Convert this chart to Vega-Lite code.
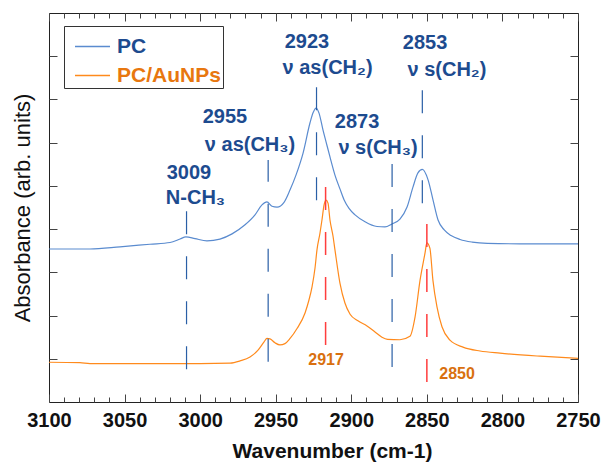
{
  "$schema": "https://vega.github.io/schema/vega-lite/v6.json",
  "width": 529,
  "height": 389,
  "autosize": "none",
  "padding": {"left": 49, "top": 13, "right": 28, "bottom": 61},
  "config": {
    "font": "Liberation Sans",
    "view": {"stroke": "#222", "strokeWidth": 1},
    "axis": {"domain": false, "grid": false, "tickColor": "#444", "tickWidth": 1, "labelColor": "#111", "titleColor": "#111"}
  },
  "datasets": {
    "spectra": [
      {"wn": 3100, "a": 3.54, "s": "PC"},
      {"wn": 3072.9, "a": 3.54, "s": "PC"},
      {"wn": 3053.0, "a": 3.59, "s": "PC"},
      {"wn": 3033.2, "a": 3.65, "s": "PC"},
      {"wn": 3019.9, "a": 3.69, "s": "PC"},
      {"wn": 3013.3, "a": 3.77, "s": "PC"},
      {"wn": 3009.4, "a": 3.82, "s": "PC"},
      {"wn": 3003.4, "a": 3.78, "s": "PC"},
      {"wn": 2995.5, "a": 3.73, "s": "PC"},
      {"wn": 2986.9, "a": 3.77, "s": "PC"},
      {"wn": 2978.9, "a": 3.89, "s": "PC"},
      {"wn": 2970.3, "a": 4.10, "s": "PC"},
      {"wn": 2963.7, "a": 4.33, "s": "PC"},
      {"wn": 2959.1, "a": 4.56, "s": "PC"},
      {"wn": 2955.8, "a": 4.63, "s": "PC"},
      {"wn": 2952.5, "a": 4.53, "s": "PC"},
      {"wn": 2949.1, "a": 4.51, "s": "PC"},
      {"wn": 2944.5, "a": 4.62, "s": "PC"},
      {"wn": 2940.5, "a": 4.91, "s": "PC"},
      {"wn": 2936.6, "a": 5.25, "s": "PC"},
      {"wn": 2931.9, "a": 5.76, "s": "PC"},
      {"wn": 2927.3, "a": 6.46, "s": "PC"},
      {"wn": 2925.3, "a": 6.69, "s": "PC"},
      {"wn": 2923.3, "a": 6.80, "s": "PC"},
      {"wn": 2921.4, "a": 6.69, "s": "PC"},
      {"wn": 2918.7, "a": 6.29, "s": "PC"},
      {"wn": 2916.7, "a": 6.02, "s": "PC"},
      {"wn": 2914.1, "a": 5.67, "s": "PC"},
      {"wn": 2910.8, "a": 5.25, "s": "PC"},
      {"wn": 2907.5, "a": 4.93, "s": "PC"},
      {"wn": 2904.8, "a": 4.68, "s": "PC"},
      {"wn": 2901.5, "a": 4.48, "s": "PC"},
      {"wn": 2897.5, "a": 4.33, "s": "PC"},
      {"wn": 2890.9, "a": 4.17, "s": "PC"},
      {"wn": 2883.0, "a": 4.06, "s": "PC"},
      {"wn": 2877.7, "a": 4.05, "s": "PC"},
      {"wn": 2873.1, "a": 4.12, "s": "PC"},
      {"wn": 2867.8, "a": 4.23, "s": "PC"},
      {"wn": 2863.1, "a": 4.51, "s": "PC"},
      {"wn": 2859.2, "a": 4.97, "s": "PC"},
      {"wn": 2855.9, "a": 5.30, "s": "PC"},
      {"wn": 2853.0, "a": 5.38, "s": "PC"},
      {"wn": 2849.2, "a": 5.14, "s": "PC"},
      {"wn": 2845.9, "a": 4.67, "s": "PC"},
      {"wn": 2842.6, "a": 4.21, "s": "PC"},
      {"wn": 2838.5, "a": 3.98, "s": "PC"},
      {"wn": 2834.0, "a": 3.85, "s": "PC"},
      {"wn": 2828.0, "a": 3.76, "s": "PC"},
      {"wn": 2820.0, "a": 3.70, "s": "PC"},
      {"wn": 2810.0, "a": 3.67, "s": "PC"},
      {"wn": 2788.4, "a": 3.66, "s": "PC"},
      {"wn": 2750, "a": 3.66, "s": "PC"},
      {"wn": 3100, "a": 0.92, "s": "PC/AuNPs"},
      {"wn": 3079.5, "a": 0.91, "s": "PC/AuNPs"},
      {"wn": 3072.9, "a": 0.89, "s": "PC/AuNPs"},
      {"wn": 3000.1, "a": 0.89, "s": "PC/AuNPs"},
      {"wn": 2980.2, "a": 0.90, "s": "PC/AuNPs"},
      {"wn": 2973.6, "a": 0.95, "s": "PC/AuNPs"},
      {"wn": 2967.0, "a": 1.04, "s": "PC/AuNPs"},
      {"wn": 2961.7, "a": 1.20, "s": "PC/AuNPs"},
      {"wn": 2957.7, "a": 1.39, "s": "PC/AuNPs"},
      {"wn": 2955.8, "a": 1.47, "s": "PC/AuNPs"},
      {"wn": 2953.8, "a": 1.46, "s": "PC/AuNPs"},
      {"wn": 2950.5, "a": 1.37, "s": "PC/AuNPs"},
      {"wn": 2947.2, "a": 1.32, "s": "PC/AuNPs"},
      {"wn": 2943.9, "a": 1.35, "s": "PC/AuNPs"},
      {"wn": 2940.5, "a": 1.47, "s": "PC/AuNPs"},
      {"wn": 2935.9, "a": 1.70, "s": "PC/AuNPs"},
      {"wn": 2930.6, "a": 2.06, "s": "PC/AuNPs"},
      {"wn": 2928.0, "a": 2.36, "s": "PC/AuNPs"},
      {"wn": 2926.0, "a": 2.66, "s": "PC/AuNPs"},
      {"wn": 2924.0, "a": 3.10, "s": "PC/AuNPs"},
      {"wn": 2922.7, "a": 3.52, "s": "PC/AuNPs"},
      {"wn": 2920.7, "a": 3.91, "s": "PC/AuNPs"},
      {"wn": 2919.4, "a": 4.21, "s": "PC/AuNPs"},
      {"wn": 2918.0, "a": 4.56, "s": "PC/AuNPs"},
      {"wn": 2916.7, "a": 4.67, "s": "PC/AuNPs"},
      {"wn": 2915.4, "a": 4.60, "s": "PC/AuNPs"},
      {"wn": 2914.1, "a": 4.21, "s": "PC/AuNPs"},
      {"wn": 2912.1, "a": 3.84, "s": "PC/AuNPs"},
      {"wn": 2910.8, "a": 3.52, "s": "PC/AuNPs"},
      {"wn": 2907.5, "a": 2.75, "s": "PC/AuNPs"},
      {"wn": 2904.2, "a": 2.29, "s": "PC/AuNPs"},
      {"wn": 2900.8, "a": 2.03, "s": "PC/AuNPs"},
      {"wn": 2895.6, "a": 1.88, "s": "PC/AuNPs"},
      {"wn": 2889.6, "a": 1.76, "s": "PC/AuNPs"},
      {"wn": 2884.3, "a": 1.62, "s": "PC/AuNPs"},
      {"wn": 2879.7, "a": 1.50, "s": "PC/AuNPs"},
      {"wn": 2876.0, "a": 1.45, "s": "PC/AuNPs"},
      {"wn": 2867.8, "a": 1.44, "s": "PC/AuNPs"},
      {"wn": 2861.2, "a": 1.52, "s": "PC/AuNPs"},
      {"wn": 2857.8, "a": 1.97, "s": "PC/AuNPs"},
      {"wn": 2854.5, "a": 2.82, "s": "PC/AuNPs"},
      {"wn": 2851.2, "a": 3.45, "s": "PC/AuNPs"},
      {"wn": 2850.0, "a": 3.68, "s": "PC/AuNPs"},
      {"wn": 2848.0, "a": 3.56, "s": "PC/AuNPs"},
      {"wn": 2846.0, "a": 2.82, "s": "PC/AuNPs"},
      {"wn": 2843.3, "a": 2.20, "s": "PC/AuNPs"},
      {"wn": 2840.0, "a": 1.74, "s": "PC/AuNPs"},
      {"wn": 2834.7, "a": 1.43, "s": "PC/AuNPs"},
      {"wn": 2826.1, "a": 1.27, "s": "PC/AuNPs"},
      {"wn": 2814.8, "a": 1.18, "s": "PC/AuNPs"},
      {"wn": 2801.6, "a": 1.13, "s": "PC/AuNPs"},
      {"wn": 2775.1, "a": 1.06, "s": "PC/AuNPs"},
      {"wn": 2750, "a": 1.01, "s": "PC/AuNPs"}
    ],
    "peaks": [
      {"wn": 3009, "lo": 0.76, "hi": 4.49, "g": "pc"},
      {"wn": 2955, "lo": 0.93, "hi": 5.60, "g": "pc"},
      {"wn": 2923, "lo": 4.67, "hi": 7.33, "g": "pc"},
      {"wn": 2873, "lo": 0.81, "hi": 5.62, "g": "pc"},
      {"wn": 2853, "lo": 4.60, "hi": 7.27, "g": "pc"},
      {"wn": 2917, "lo": 1.32, "hi": 5.07, "g": "au"},
      {"wn": 2850, "lo": 0.46, "hi": 4.21, "g": "au"}
    ],
    "labels": [
      {"wn": 3007.4, "a": 5.30, "t": "3009", "g": "pc"},
      {"wn": 3003.1, "a": 4.72, "t": "N-CH₃", "g": "pc"},
      {"wn": 2983.6, "a": 6.59, "t": "2955", "g": "pc"},
      {"wn": 2967.0, "a": 5.95, "t": "ν as(CH₃)", "g": "pc"},
      {"wn": 2929.3, "a": 8.33, "t": "2923", "g": "pc"},
      {"wn": 2915.7, "a": 7.73, "t": "ν as(CH₂)", "g": "pc"},
      {"wn": 2896.2, "a": 6.48, "t": "2873", "g": "pc"},
      {"wn": 2882.3, "a": 5.88, "t": "ν s(CH₃)", "g": "pc"},
      {"wn": 2851.2, "a": 8.31, "t": "2853", "g": "pc"},
      {"wn": 2836.7, "a": 7.68, "t": "ν s(CH₂)", "g": "pc"},
      {"wn": 2916.7, "a": 0.97, "t": "2917", "g": "au"},
      {"wn": 2830.0, "a": 0.65, "t": "2850", "g": "au"}
    ]
  },
  "layer": [
    {
      "data": {"name": "spectra"},
      "mark": {"type": "line", "strokeWidth": 1.2, "interpolate": "monotone"},
      "encoding": {
        "x": {"field": "wn", "type": "quantitative",
          "scale": {"domain": [2750, 3100], "reverse": true, "nice": false, "zero": false},
          "axis": {"orient": "bottom", "values": [3100, 3050, 3000, 2950, 2900, 2850, 2800, 2750], "format": "d", "tickSize": -8, "labelPadding": 16, "labelFontSize": 20, "labelFontWeight": "bold", "labelFlush": false, "title": "Wavenumber (cm-1)", "titleFontSize": 21, "titleFontWeight": "bold", "titleX": 283, "titleY": 49, "titleBaseline": "middle"}},
        "y": {"field": "a", "type": "quantitative",
          "scale": {"domain": [0, 9], "nice": false, "zero": false},
          "axis": {"orient": "left", "values": [1, 2, 3, 4, 5, 6, 7, 8], "tickSize": -8, "labels": false, "title": "Absorbance (arb. units)", "titleFontSize": 22, "titleFontWeight": "normal", "titleX": -27, "titleY": 194.5, "titleBaseline": "middle", "titleAlign": "center", "titleAngle": -90}},
        "color": {"field": "s", "type": "nominal",
          "scale": {"domain": ["PC", "PC/AuNPs"], "range": ["#5a8bcf", "#ff8a1c"]},
          "legend": {"orient": "none", "legendX": 15, "legendY": 13, "title": null, "strokeColor": "#333", "fillColor": "white", "padding": 2, "symbolOffset": 8, "symbolType": "stroke", "symbolSize": 1225, "symbolStrokeWidth": 1.5, "labelFontSize": 21, "labelFontWeight": "bold", "labelOffset": 6, "rowPadding": -4,
            "encode": {"labels": {"update": {"fill": {"signal": "datum.value === 'PC' ? '#1d4b8f' : '#e8770f'"}}}}}}
      }
    },
    {
      "data": {"name": "peaks"},
      "transform": [{"filter": "datum.g === 'pc'"}],
      "mark": {"type": "rule", "color": "#2a5fa6", "strokeWidth": 1.2, "strokeDash": [23, 22]},
      "encoding": {
        "x": {"field": "wn", "type": "quantitative",
          "scale": {"domain": [2750, 3100], "reverse": true, "nice": false, "zero": false},
          "axis": {"orient": "top", "values": [3100, 3050, 3000, 2950, 2900, 2850, 2800, 2750], "tickSize": -8, "labels": false, "title": null}},
        "y": {"field": "lo", "type": "quantitative",
          "scale": {"domain": [0, 9], "nice": false, "zero": false},
          "axis": {"orient": "right", "values": [1, 2, 3, 4, 5, 6, 7, 8], "tickSize": -8, "labels": false, "title": null}},
        "y2": {"field": "hi"}
      }
    },
    {
      "data": {"name": "peaks"},
      "transform": [{"filter": "datum.g === 'au'"}],
      "mark": {"type": "rule", "color": "#ff3d3d", "strokeWidth": 1.5, "strokeDash": [23, 22]},
      "encoding": {
        "x": {"field": "wn", "type": "quantitative",
          "scale": {"domain": [2750, 3100], "reverse": true, "nice": false, "zero": false},
          "axis": {"orient": "top", "values": [3090, 3080, 3070, 3060, 3040, 3030, 3020, 3010, 2990, 2980, 2970, 2960, 2940, 2930, 2920, 2910, 2890, 2880, 2870, 2860, 2840, 2830, 2820, 2810, 2790, 2780, 2770, 2760], "tickSize": -5, "labels": false, "title": null}},
        "y": {"field": "lo", "type": "quantitative", "scale": {"domain": [0, 9], "nice": false, "zero": false}, "axis": null},
        "y2": {"field": "hi"}
      }
    },
    {
      "data": {"name": "labels"},
      "transform": [{"filter": "datum.g === 'pc'"}],
      "mark": {"type": "text", "font": "Liberation Sans", "fontSize": 20, "fontWeight": "bold", "color": "#1d4b8f", "align": "center", "baseline": "middle"},
      "encoding": {
        "x": {"field": "wn", "type": "quantitative",
          "scale": {"domain": [2750, 3100], "reverse": true, "nice": false, "zero": false},
          "axis": {"orient": "bottom", "values": [3090, 3080, 3070, 3060, 3040, 3030, 3020, 3010, 2990, 2980, 2970, 2960, 2940, 2930, 2920, 2910, 2890, 2880, 2870, 2860, 2840, 2830, 2820, 2810, 2790, 2780, 2770, 2760], "tickSize": -5, "labels": false, "title": null}},
        "y": {"field": "a", "type": "quantitative", "scale": {"domain": [0, 9], "nice": false, "zero": false}, "axis": null},
        "text": {"field": "t"}
      }
    },
    {
      "data": {"name": "labels"},
      "transform": [{"filter": "datum.g === 'au'"}],
      "mark": {"type": "text", "font": "Liberation Sans", "fontSize": 16, "fontWeight": "bold", "color": "#d9700f", "align": "center", "baseline": "middle"},
      "encoding": {
        "x": {"field": "wn", "type": "quantitative", "scale": {"domain": [2750, 3100], "reverse": true, "nice": false, "zero": false}, "axis": null},
        "y": {"field": "a", "type": "quantitative", "scale": {"domain": [0, 9], "nice": false, "zero": false}, "axis": null},
        "text": {"field": "t"}
      }
    }
  ],
  "resolve": {"axis": {"x": "independent", "y": "independent"}}
}
